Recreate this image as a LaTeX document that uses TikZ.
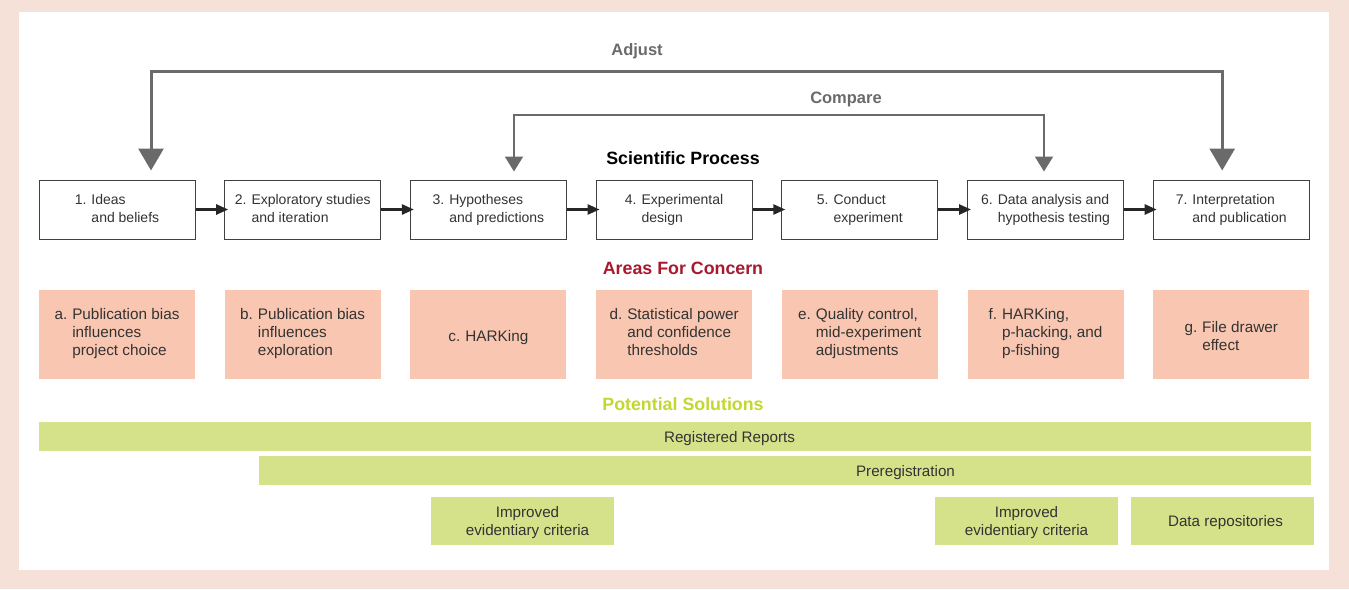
\documentclass[tikz,border=0pt]{standalone}
\usepackage{fontspec}
\setmainfont{Liberation Sans}
\usetikzlibrary{arrows.meta, positioning}
\definecolor{pagebg}{HTML}{F5E1D7}
\definecolor{concernfill}{HTML}{F9C7B1}
\definecolor{solutionfill}{HTML}{D6E28A}
\definecolor{concernred}{HTML}{A8192E}
\definecolor{solutiongreen}{HTML}{C3D72E}
\definecolor{loopgray}{HTML}{6A6A6A}
\definecolor{textdark}{HTML}{333333}
\newlength{\blockwidth}
\setlength{\blockwidth}{156pt}
\newlength{\blockgap}
\setlength{\blockgap}{28.7pt}
\newcommand{\numbered}[2]{\begin{tabular}{@{}l@{\hspace{5pt}}l@{}}#1 & #2\end{tabular}}
\newcommand{\lowered}[1]{\raisebox{0pt}[\dimexpr\height+8pt\relax]{#1}}
\tikzstyle{block} = [rectangle, draw=black!75, line width=1pt, minimum width=\blockwidth, minimum height=59pt, inner sep=0pt, text=textdark, font=\fontsize{14}{18}\selectfont]
\tikzstyle{concern} = [rectangle, fill=concernfill, minimum width=\blockwidth, minimum height=89pt, inner sep=0pt, text=textdark, font=\fontsize{15.3}{18}\selectfont]
\tikzstyle{solution} = [rectangle, fill=solutionfill, inner sep=0pt, align=center, text depth=0pt, text=textdark, font=\fontsize{15.2}{18}\selectfont]
\tikzstyle{heading} = [anchor=base, inner sep=0pt, font=\fontsize{17.8}{20}\selectfont\bfseries]
\tikzstyle{looplabel} = [anchor=base, inner sep=0pt, text=loopgray, font=\fontsize{16.5}{20}\selectfont\bfseries]
\tikzstyle{arrow} = [line width=2.5pt, black!85, -{Triangle[width=10pt,length=12pt]}, shorten >=-4pt]
\tikzstyle{adjustloop} = [loopgray, line width=3pt, {Triangle[width=25pt,length=22pt]}-{Triangle[width=25pt,length=22pt]}, shorten <=9pt, shorten >=9pt]
\tikzstyle{compareloop} = [loopgray, line width=2pt, {Triangle[width=18pt,length=15pt]}-{Triangle[width=18pt,length=15pt]}, shorten <=8pt, shorten >=8pt]

\begin{document}
\begin{tikzpicture}[x=1pt, y=-1pt]

    % Background
    \fill [pagebg] (0,0) rectangle (1349,589);
    \fill [white] (19,12) rectangle (1329,570);
    \useasboundingbox (0,0) rectangle (1349,589);

    % Scientific process
    \node (process_title) [heading] at (683,164) {Scientific Process};
    \node (ideas) [block] at (117,209.5) {\numbered{1.}{Ideas\\ & and beliefs}};
    \node (explore) [block, right=\blockgap of ideas] {\numbered{2.}{Exploratory studies\\ & and iteration}};
    \node (hypo) [block, right=\blockgap of explore] {\numbered{3.}{Hypotheses\\ & and predictions}};
    \node (design) [block, right=\blockgap of hypo] {\numbered{4.}{Experimental\\ & design}};
    \node (conduct) [block, right=\blockgap of design] {\numbered{5.}{Conduct\\ & experiment}};
    \node (analysis) [block, right=\blockgap of conduct] {\numbered{6.}{Data analysis and\\ & hypothesis testing}};
    \node (interpret) [block, right=\blockgap of analysis] {\numbered{7.}{Interpretation\\ & and publication}};

    % Areas for concern
    \node (concern_title) [heading, text=concernred] at (683,274) {Areas For Concern};
    \node (bias_choice) [concern, below=50pt of ideas] {\numbered{a.}{Publication bias\\ & influences\\ & project choice}};
    \node (bias_explore) [concern, below=50pt of explore] {\numbered{b.}{Publication bias\\ & influences\\ & exploration}};
    \node (harking) [concern, below=50pt of hypo] {\lowered{\numbered{c.}{HARKing}}};
    \node (power) [concern, below=50pt of design] {\numbered{d.}{Statistical power\\ & and confidence\\ & thresholds}};
    \node (quality) [concern, below=50pt of conduct] {\numbered{e.}{Quality control,\\ & mid-experiment\\ & adjustments}};
    \node (phacking) [concern, below=50pt of analysis] {\numbered{f.}{HARKing,\\ & p-hacking, and\\ & p-fishing}};
    \node (drawer) [concern, below=50pt of interpret] {\lowered{\numbered{g.}{File drawer\\ & effect}}};

    % Potential solutions
    \node (solution_title) [heading, text=solutiongreen] at (683,410) {Potential Solutions};
    \node (reports) [solution, minimum width=1272pt, minimum height=29pt] at (675,436.5) {\hspace*{109pt}Registered Reports};
    \node (prereg) [solution, minimum width=1052pt, minimum height=29pt] at (785,470.5) {\hspace*{241pt}Preregistration};
    \node (criteria_a) [solution, minimum width=183pt, minimum height=48pt] at (522.5,521) {\hspace*{10pt}Improved\\\hspace*{10pt}evidentiary criteria};
    \node (criteria_b) [solution, minimum width=183pt, minimum height=48pt] at (1026.5,521) {Improved\\evidentiary criteria};
    \node (repos) [solution, minimum width=183pt, minimum height=48pt] at (1222.5,521) {\hspace*{6pt}Data repositories};

    % ==== Arrows
    \draw [arrow] (ideas) -- (explore);
    \draw [arrow] (explore) -- (hypo);
    \draw [arrow] (hypo) -- (design);
    \draw [arrow] (design) -- (conduct);
    \draw [arrow] (conduct) -- (analysis);
    \draw [arrow] (analysis) -- (interpret);

    % Feedback loops
    \coordinate (adjust_level) at (637,71);
    \coordinate (compare_level) at (846,115);
    \node (adjust_label) [looplabel] at (637,55) {Adjust};
    \node (compare_label) [looplabel] at (846,103) {Compare};
    \draw [adjustloop] ([xshift=34pt]ideas.north) |- (adjust_level) -| ([xshift=-9pt]interpret.north);
    \draw [compareloop] ([xshift=25.6pt]hypo.north) |- (compare_level) -| ([xshift=-1.5pt]analysis.north);

\end{tikzpicture}
\end{document}
